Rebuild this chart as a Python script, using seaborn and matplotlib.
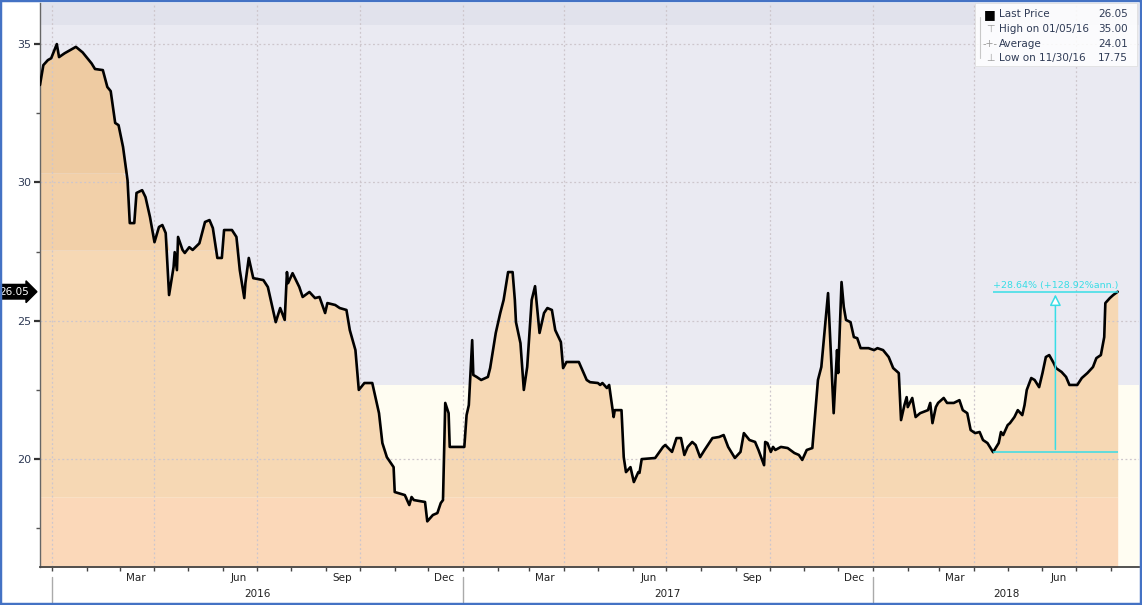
import numpy as np
import pandas as pd
import matplotlib
matplotlib.use("Agg")
import matplotlib.pyplot as plt
import matplotlib.dates as mdates
import matplotlib.transforms as mtransforms
from matplotlib.patches import Rectangle
import seaborn as sns

# ---------------- data ----------------
dates = [
    "2015-12-21", "2015-12-24", "2015-12-28", "2015-12-31", "2016-01-05", "2016-01-07",
    "2016-01-12", "2016-01-22", "2016-01-28", "2016-02-05", "2016-02-08", "2016-02-15",
    "2016-02-19", "2016-02-22", "2016-02-26", "2016-02-29", "2016-03-04", "2016-03-08",
    "2016-03-10", "2016-03-14", "2016-03-16", "2016-03-21", "2016-03-24", "2016-03-28",
    "2016-04-01", "2016-04-05", "2016-04-08", "2016-04-11", "2016-04-14", "2016-04-18",
    "2016-04-19", "2016-04-21", "2016-04-22", "2016-04-26", "2016-04-28", "2016-05-02",
    "2016-05-05", "2016-05-11", "2016-05-16", "2016-05-20", "2016-05-23", "2016-05-27",
    "2016-05-31", "2016-06-02", "2016-06-09", "2016-06-13", "2016-06-16", "2016-06-20",
    "2016-06-21", "2016-06-24", "2016-06-28", "2016-07-07", "2016-07-11", "2016-07-15",
    "2016-07-18", "2016-07-22", "2016-07-26", "2016-07-28", "2016-07-29", "2016-08-02",
    "2016-08-08", "2016-08-11", "2016-08-17", "2016-08-22", "2016-08-26", "2016-08-31",
    "2016-09-02", "2016-09-09", "2016-09-13", "2016-09-19", "2016-09-22", "2016-09-27",
    "2016-09-30", "2016-10-05", "2016-10-12", "2016-10-18", "2016-10-21", "2016-10-25",
    "2016-10-31", "2016-11-01", "2016-11-10", "2016-11-14", "2016-11-16", "2016-11-18",
    "2016-11-28", "2016-11-30", "2016-12-05", "2016-12-09", "2016-12-12", "2016-12-14",
    "2016-12-16", "2016-12-19", "2016-12-20", "2017-01-02", "2017-01-04", "2017-01-06",
    "2017-01-09", "2017-01-10", "2017-01-13", "2017-01-17", "2017-01-23", "2017-01-25",
    "2017-01-30", "2017-02-03", "2017-02-06", "2017-02-10", "2017-02-14", "2017-02-16",
    "2017-02-17", "2017-02-21", "2017-02-24", "2017-02-27", "2017-03-02", "2017-03-03",
    "2017-03-06", "2017-03-08", "2017-03-10", "2017-03-14", "2017-03-17", "2017-03-21",
    "2017-03-24", "2017-03-29", "2017-03-31", "2017-04-03", "2017-04-14", "2017-04-21",
    "2017-04-24", "2017-05-01", "2017-05-03", "2017-05-05", "2017-05-09", "2017-05-11",
    "2017-05-15", "2017-05-16", "2017-05-22", "2017-05-24", "2017-05-26", "2017-05-30",
    "2017-06-02", "2017-06-06", "2017-06-07", "2017-06-09", "2017-06-21", "2017-06-28",
    "2017-06-30", "2017-07-06", "2017-07-10", "2017-07-14", "2017-07-17", "2017-07-20",
    "2017-07-24", "2017-07-27", "2017-07-31", "2017-08-04", "2017-08-11", "2017-08-17",
    "2017-08-21", "2017-08-25", "2017-08-31", "2017-09-05", "2017-09-08", "2017-09-13",
    "2017-09-18", "2017-09-21", "2017-09-26", "2017-09-27", "2017-09-29", "2017-10-02",
    "2017-10-04", "2017-10-06", "2017-10-11", "2017-10-17", "2017-10-23", "2017-10-27",
    "2017-10-30", "2017-11-03", "2017-11-08", "2017-11-13", "2017-11-16", "2017-11-22",
    "2017-11-27", "2017-11-30", "2017-12-01", "2017-12-04", "2017-12-06", "2017-12-08",
    "2017-12-12", "2017-12-15", "2017-12-18", "2017-12-21", "2017-12-28", "2018-01-02",
    "2018-01-05", "2018-01-10", "2018-01-15", "2018-01-19", "2018-01-24", "2018-01-26",
    "2018-01-29", "2018-01-31", "2018-02-01", "2018-02-05", "2018-02-08", "2018-02-12",
    "2018-02-19", "2018-02-21", "2018-02-23", "2018-02-26", "2018-02-28", "2018-03-05",
    "2018-03-08", "2018-03-14", "2018-03-19", "2018-03-22", "2018-03-26", "2018-03-29",
    "2018-04-02", "2018-04-06", "2018-04-09", "2018-04-13", "2018-04-18", "2018-04-23",
    "2018-04-25", "2018-04-27", "2018-05-01", "2018-05-03", "2018-05-07", "2018-05-10",
    "2018-05-14", "2018-05-16", "2018-05-18", "2018-05-22", "2018-05-25", "2018-05-29",
    "2018-06-01", "2018-06-04", "2018-06-07", "2018-06-11", "2018-06-13", "2018-06-18",
    "2018-06-22", "2018-06-25", "2018-07-02", "2018-07-06", "2018-07-11", "2018-07-16",
    "2018-07-19", "2018-07-23", "2018-07-26", "2018-07-27", "2018-07-31", "2018-08-03",
    "2018-08-07",
]
prices = [
    33.52, 34.24, 34.42, 34.49, 35.00, 34.53,
    34.67, 34.90, 34.70, 34.30, 34.10, 34.06,
    33.45, 33.30, 32.15, 32.07, 31.28, 30.08,
    28.53, 28.53, 29.62, 29.72, 29.47, 28.75,
    27.84, 28.39, 28.46, 28.17, 25.93, 26.94,
    27.48, 26.83, 28.03, 27.56, 27.45, 27.66,
    27.56, 27.80, 28.57, 28.64, 28.35, 27.27,
    27.27, 28.28, 28.28, 28.03, 26.83, 25.82,
    26.36, 27.27, 26.54, 26.47, 26.22, 25.50,
    24.95, 25.46, 25.03, 26.76, 26.36, 26.72,
    26.22, 25.86, 26.04, 25.82, 25.86, 25.28,
    25.64, 25.57, 25.46, 25.39, 24.66, 23.94,
    22.50, 22.75, 22.75, 21.66, 20.58, 20.07,
    19.71, 18.81, 18.70, 18.34, 18.63, 18.52,
    18.45, 17.75, 17.98, 18.05, 18.41, 18.52,
    22.03, 21.66, 20.44, 20.44, 21.59, 21.95,
    24.30, 23.04, 22.97, 22.86, 22.97, 23.29,
    24.56, 25.28, 25.75, 26.76, 26.76, 25.75,
    24.95, 24.19, 22.50, 23.33, 25.13, 25.75,
    26.25, 25.39, 24.56, 25.28, 25.46, 25.39,
    24.66, 24.23, 23.29, 23.51, 23.51, 22.86,
    22.78, 22.75, 22.68, 22.75, 22.57, 22.68,
    21.52, 21.77, 21.77, 20.07, 19.53, 19.71,
    19.17, 19.53, 19.50, 20.00, 20.04, 20.44,
    20.51, 20.26, 20.76, 20.76, 20.15, 20.44,
    20.62, 20.51, 20.07, 20.33, 20.76, 20.80,
    20.87, 20.44, 20.04, 20.26, 20.94, 20.69,
    20.62, 20.33, 19.78, 20.62, 20.58, 20.26,
    20.44, 20.33, 20.44, 20.40, 20.22, 20.15,
    19.97, 20.33, 20.40, 22.86, 23.33, 26.00,
    21.66, 23.94, 23.11, 26.40, 25.50, 25.03,
    24.95, 24.41, 24.37, 24.01, 24.01, 23.94,
    24.01, 23.94, 23.69, 23.29, 23.11, 21.41,
    21.95, 22.24, 21.88, 22.21, 21.52, 21.66,
    21.77, 22.03, 21.30, 21.88, 22.03, 22.21,
    22.03, 22.03, 22.13, 21.77, 21.66, 21.05,
    20.94, 20.98, 20.69, 20.58, 20.25, 20.58,
    20.98, 20.87, 21.23, 21.30, 21.52, 21.77,
    21.59, 21.95, 22.50, 22.93, 22.86, 22.60,
    23.11, 23.69, 23.76, 23.47, 23.29, 23.15,
    22.97, 22.68, 22.68, 22.93, 23.11, 23.33,
    23.65, 23.76, 24.41, 25.64, 25.82, 25.93,
    26.05,
]
y_ticks = [20, 25, 30, 35]
y_minor_ticks = [17.5, 22.5, 27.5, 32.5]
label_months = [3, 6, 9, 12]
years = [2016, 2017, 2018]

legend_labels = ["Last Price", "High on 01/05/16", "Average", "Low on 11/30/16"]
legend_values = ["26.05", "35.00", "24.01", "17.75"]
legend_symbols = ["\u25A0", "\u22A4", "-+-", "\u22A5"]

last_price = 26.05
change_start_date = "2018-04-18"
change_end_date = "2018-08-07"
change_start_value = 20.25
change_end_value = 26.05
change_text = "+28.64% (+128.92%ann.)"

# background bands (lo, hi, colour) and fill bands under the line
bg_bands = [(16.0, 22.67, "#fffdf2"), (22.67, 35.69, "#eaeaf2"), (35.69, 37.0, "#e1e2ec")]
fill_bands = [(16.0, 18.63, "#fbd8b9"), (18.63, 27.56, "#f6d8b4"),
              (27.56, 30.34, "#f2d0a9"), (30.34, 37.0, "#eecba2")]

# ---------------- style ----------------
sns.set_theme(style="white")
plt.rcParams["font.family"] = ["DejaVu Sans"]
text_col = "#2e3a55"
cyan = "#38dde6"
grid_col = "#cdc6cc"

df = pd.DataFrame({"date": pd.to_datetime(dates), "price": prices})
xmin = pd.Timestamp("2015-12-21")
xmax = pd.Timestamp("2018-08-26")
ymin, ymax = 16.10, 36.48

fig = plt.figure(figsize=(11.42, 6.05), dpi=100)
fig.patch.set_facecolor("white")
ax = fig.add_axes([0.035, 0.0628, 0.9624, 0.932])
ax.set_facecolor("white")

for lo, hi, c in bg_bands:
    ax.axhspan(lo, hi, color=c, lw=0, zorder=0)

xnum = mdates.date2num(df["date"])
pr = df["price"].to_numpy()
for lo, hi, c in fill_bands:
    ax.fill_between(xnum, lo, np.clip(pr, lo, hi), color=c, lw=0, zorder=1)

# grid
for yv in y_ticks:
    ax.axhline(yv, color=grid_col, lw=0.9, ls=(0, (1.5, 2)), zorder=2)
for q in pd.date_range("2016-01-01", "2018-07-01", freq="QS"):
    ax.axvline(q, color=grid_col, lw=0.9, ls=(0, (1.5, 2)), zorder=2)

sns.lineplot(data=df, x="date", y="price", color="black", lw=1.9, ax=ax, zorder=5)

ax.set_xlim(xmin, xmax)
ax.set_ylim(ymin, ymax)
ax.set_xlabel("")
ax.set_ylabel("")

# y axis
ax.set_yticks(y_ticks)
ax.set_yticks(y_minor_ticks, minor=True)
ax.tick_params(axis="y", which="major", left=True, length=4, width=1.6, color="#333",
               labelsize=8, labelcolor=text_col, pad=2)
ax.tick_params(axis="y", which="minor", left=True, length=3, width=1.0, color="#555")

# x axis
ax.xaxis.set_major_locator(mdates.MonthLocator())
ax.xaxis.set_major_formatter(matplotlib.ticker.NullFormatter())
ax.xaxis.set_minor_locator(mdates.MonthLocator(bymonth=label_months, bymonthday=15))
ax.xaxis.set_minor_formatter(mdates.DateFormatter("%b"))
ax.tick_params(axis="x", which="major", bottom=True, length=3, width=1.0, color="#444")
ax.tick_params(axis="x", which="minor", bottom=True, length=0, labelsize=7.5,
               labelcolor="#222", pad=4)

for s in ["top", "right"]:
    ax.spines[s].set_visible(False)
ax.spines["left"].set_color("#666")
ax.spines["left"].set_linewidth(1.0)
ax.spines["bottom"].set_color("#444")
ax.spines["bottom"].set_linewidth(1.3)

# year labels and separators
trans_xa = mtransforms.blended_transform_factory(ax.transData, ax.transAxes)
for yr in years:
    start = max(pd.Timestamp(f"{yr}-01-01"), xmin)
    end = min(pd.Timestamp(f"{yr}-12-31"), xmax)
    mid = start + (end - start) / 2
    ax.text(mid, -0.048, str(yr), transform=trans_xa, ha="center", va="center",
            fontsize=7.5, color="#222")
    ax.plot([pd.Timestamp(f"{yr}-01-01")] * 2, [-0.018, -0.062], transform=trans_xa,
            color="#aaa", lw=1.0, clip_on=False)

# last price tag
trans_ay = mtransforms.blended_transform_factory(ax.transAxes, ax.transData)
ax.text(-0.010, last_price, "26.05", transform=trans_ay, ha="right", va="center",
        color="white", fontsize=7.5, zorder=10,
        bbox=dict(boxstyle="rarrow,pad=0.22", fc="black", ec="black"))

# change annotation
d0 = pd.Timestamp(change_start_date)
d1 = pd.Timestamp(change_end_date)
dm = d0 + (d1 - d0) / 2
ax.hlines([change_start_value, change_end_value], d0, d1, color=cyan, lw=1.1, zorder=6)
ax.annotate("", xy=(dm, change_end_value), xytext=(dm, change_start_value),
            arrowprops=dict(arrowstyle="-|>,head_length=0.55,head_width=0.28",
                            ec=cyan, fc="white", lw=1.1), zorder=6)
ax.text(dm, change_end_value + 0.08, change_text, ha="center", va="bottom",
        color=cyan, fontsize=6.8, zorder=7)

# legend box
ax.add_patch(Rectangle((0.851, 0.888), 0.147, 0.112, transform=ax.transAxes,
                       fc="white", ec="#dddddd", lw=0.6, alpha=0.85, zorder=8))
ax.plot([0.8555, 0.8555], [0.975, 0.902], transform=ax.transAxes, color="#c8c8c8",
        lw=0.8, zorder=9)
row_y = [0.980, 0.954, 0.928, 0.902]
for i, (lab, val, sym) in enumerate(zip(legend_labels, legend_values, legend_symbols)):
    col = "black" if i == 0 else "#9a9a9a"
    ax.text(0.8645, row_y[i], sym, transform=ax.transAxes, ha="center", va="center",
            fontsize=9 if i == 0 else 7, color=col, zorder=10)
    ax.text(0.8725, row_y[i], lab, transform=ax.transAxes, ha="left", va="center",
            fontsize=7.5, color=text_col, zorder=10)
    ax.text(0.990, row_y[i], val, transform=ax.transAxes, ha="right", va="center",
            fontsize=7.5, color=text_col, zorder=10)

# outer blue frame
fig.add_artist(Rectangle((0, 0), 1, 1, transform=fig.transFigure, fill=False,
                         ec="#4472c4", lw=3.2))

fig.savefig("out.png", dpi=100)
